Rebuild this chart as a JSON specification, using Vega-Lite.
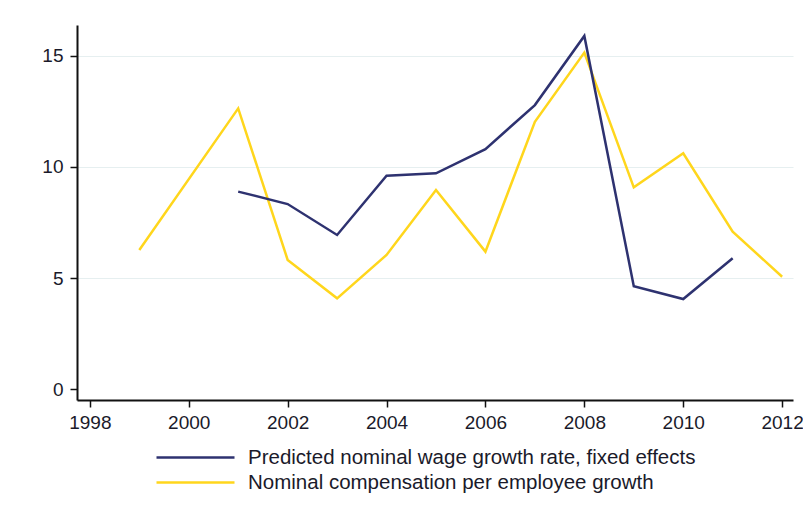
{
  "$schema": "https://vega.github.io/schema/vega-lite/v6.json",
  "description": "Predicted nominal wage growth vs nominal compensation per employee growth, 1999-2012.",
  "width": 716,
  "height": 375,
  "autosize": {"type": "none"},
  "padding": {"left": 77, "top": 25, "right": 10, "bottom": 119},
  "background": "white",
  "data": {
    "values": [
      {"year": 1999, "series": "Nominal compensation per employee growth", "value": 6.26},
      {"year": 2001, "series": "Nominal compensation per employee growth", "value": 12.63},
      {"year": 2002, "series": "Nominal compensation per employee growth", "value": 5.82},
      {"year": 2003, "series": "Nominal compensation per employee growth", "value": 4.09},
      {"year": 2004, "series": "Nominal compensation per employee growth", "value": 6.04},
      {"year": 2005, "series": "Nominal compensation per employee growth", "value": 8.96},
      {"year": 2006, "series": "Nominal compensation per employee growth", "value": 6.19},
      {"year": 2007, "series": "Nominal compensation per employee growth", "value": 12.03},
      {"year": 2008, "series": "Nominal compensation per employee growth", "value": 15.14},
      {"year": 2009, "series": "Nominal compensation per employee growth", "value": 9.08},
      {"year": 2010, "series": "Nominal compensation per employee growth", "value": 10.61},
      {"year": 2011, "series": "Nominal compensation per employee growth", "value": 7.09},
      {"year": 2012, "series": "Nominal compensation per employee growth", "value": 5.06},
      {"year": 2001, "series": "Predicted nominal wage growth rate, fixed effects", "value": 8.89},
      {"year": 2002, "series": "Predicted nominal wage growth rate, fixed effects", "value": 8.33},
      {"year": 2003, "series": "Predicted nominal wage growth rate, fixed effects", "value": 6.94},
      {"year": 2004, "series": "Predicted nominal wage growth rate, fixed effects", "value": 9.6},
      {"year": 2005, "series": "Predicted nominal wage growth rate, fixed effects", "value": 9.71},
      {"year": 2006, "series": "Predicted nominal wage growth rate, fixed effects", "value": 10.8},
      {"year": 2007, "series": "Predicted nominal wage growth rate, fixed effects", "value": 12.78},
      {"year": 2008, "series": "Predicted nominal wage growth rate, fixed effects", "value": 15.89},
      {"year": 2009, "series": "Predicted nominal wage growth rate, fixed effects", "value": 4.64},
      {"year": 2010, "series": "Predicted nominal wage growth rate, fixed effects", "value": 4.06},
      {"year": 2011, "series": "Predicted nominal wage growth rate, fixed effects", "value": 5.89}
    ]
  },
  "mark": {"type": "line", "strokeWidth": 2.5, "clip": false},
  "encoding": {
    "x": {
      "field": "year",
      "type": "quantitative",
      "title": null,
      "scale": {"domain": [1997.74, 2012.22], "nice": false, "zero": false},
      "axis": {
        "values": [1998, 2000, 2002, 2004, 2006, 2008, 2010, 2012],
        "format": "d",
        "grid": false,
        "labelPadding": 6
      }
    },
    "y": {
      "field": "value",
      "type": "quantitative",
      "title": null,
      "scale": {"domain": [-0.48, 16.38], "nice": false, "zero": false},
      "axis": {
        "values": [0, 5, 10, 15],
        "grid": true,
        "gridOpacity": {"condition": {"test": "datum.value == 0", "value": 0}, "value": 1},
        "labelPadding": 7
      }
    },
    "color": {
      "field": "series",
      "type": "nominal",
      "sort": ["Predicted nominal wage growth rate, fixed effects", "Nominal compensation per employee growth"],
      "scale": {
        "domain": ["Predicted nominal wage growth rate, fixed effects", "Nominal compensation per employee growth"],
        "range": ["#2e3270", "#ffd61c"]
      },
      "legend": {
        "title": null,
        "orient": "none",
        "legendX": 78,
        "legendY": 420,
        "direction": "vertical",
        "symbolType": "stroke",
        "symbolSize": 6084,
        "symbolStrokeWidth": 2.5,
        "clipHeight": 25,
        "labelOffset": 12,
        "labelFontSize": 20.5,
        "labelLimit": 600,
        "rowPadding": 0
      }
    }
  },
  "config": {
    "view": {"stroke": null},
    "font": "Liberation Sans",
    "axis": {
      "domainColor": "#111111",
      "domainWidth": 2,
      "tickColor": "#111111",
      "tickWidth": 1.5,
      "tickSize": 7,
      "labelFontSize": 19,
      "labelColor": "#1a1a2a",
      "gridColor": "#e6eff0",
      "gridWidth": 1.2
    },
    "legend": {"labelColor": "#1a1a2a"}
  }
}
